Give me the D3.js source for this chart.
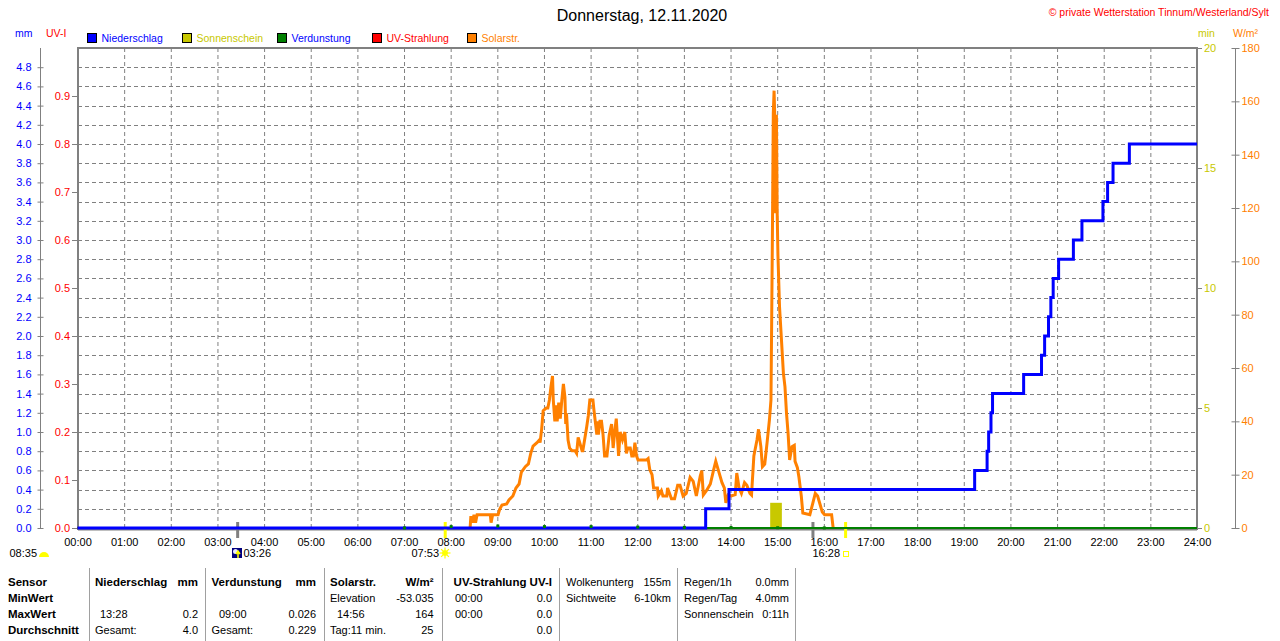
<!DOCTYPE html>
<html>
<head>
<meta charset="utf-8">
<script src="https://cdn.jsdelivr.net/npm/d3@7"></script>
<style>
body { margin: 0; background: #fff; }
svg { display: block; font-family: "Liberation Sans", Arial, sans-serif; }
</style>
</head>
<body>
<svg id="chart" width="1280" height="641"></svg>
<script>
// ---- data ----
var hourLabels = ["00:00","01:00","02:00","03:00","04:00","05:00","06:00","07:00","08:00","09:00","10:00","11:00","12:00",
  "13:00","14:00","15:00","16:00","17:00","18:00","19:00","20:00","21:00","22:00","23:00","24:00"];
var mmTicks = [0.0,0.2,0.4,0.6,0.8,1.0,1.2,1.4,1.6,1.8,2.0,2.2,2.4,2.6,2.8,3.0,3.2,3.4,3.6,3.8,4.0,4.2,4.4,4.6,4.8];
var uvTicks = [0.0,0.1,0.2,0.3,0.4,0.5,0.6,0.7,0.8,0.9];
var minTicks = [0,5,10,15,20];
var wTicks = [0,20,40,60,80,100,120,140,160,180];

// Niederschlag, cumulative mm (step after)
var rainTime = ["00:00","13:28","13:58","19:14","19:30","19:32","19:35","19:37","19:41","20:17","20:40","20:44","20:49",
  "20:52","20:55","21:02","21:21","21:32","21:59","22:05","22:12","22:33","24:00"];
var rainMm = [0,0.2,0.4,0.6,0.8,1.0,1.2,1.4,1.4,1.6,1.8,2.0,2.2,2.4,2.6,2.8,3.0,3.2,3.4,3.6,3.8,4.0,4.0];

// Solarstrahlung W/m²
var solarTime = ["08:25","08:26","08:28","08:30","08:32","08:34","08:42","08:51","08:52","08:54","09:01","09:03","09:06",
  "09:12","09:15","09:20","09:24","09:28","09:31","09:36","09:40","09:43","09:46","09:51","09:54","09:55","09:57","09:59",
  "10:03","10:05","10:07","10:09","10:11","10:12","10:14","10:15","10:17","10:19","10:21","10:23","10:25","10:27","10:28",
  "10:29","10:31","10:33","10:36","10:40","10:42","10:44","10:46","10:49","10:50","10:55","10:57","10:59","11:03","11:04",
  "11:06","11:08","11:09","11:10","11:12","11:14","11:16","11:18","11:21","11:24","11:27","11:29","11:31","11:33","11:36",
  "11:38","11:41","11:44","11:46","11:48","11:51","11:53","11:55","11:57","11:59","12:01","12:12","12:14","12:16","12:19",
  "12:21","12:26","12:27","12:31","12:33","12:38","12:39","12:44","12:48","12:52","12:55","12:59","13:03","13:08","13:12",
  "13:16","13:21","13:23","13:25","13:29","13:34","13:38","13:41","13:44","13:49","13:52","13:54","13:57","14:01","14:06",
  "14:08","14:11","14:14","14:18","14:21","14:25","14:27","14:30","14:34","14:36","14:39","14:41","14:44","14:47","14:50",
  "14:52","14:53","14:54","14:55","14:56","14:57","14:58","14:59","15:00","15:01","15:03","15:06","15:08","15:10","15:12",
  "15:14","15:16","15:19","15:22","15:23","15:26","15:28","15:31","15:33","15:42","15:46","15:49","15:52","15:55","15:58",
  "16:01","16:10","16:12"];
var solarWm2 = [0,4.5,2,5,2,5,5,5,2,5,5,7,8.6,
  9,10.5,12,15,16.5,21,23,24,28,30.7,32,33,32,37,44,
  45,45,48,53,57,48,40,46,40,47,41,48,54,49,39,
  43,33,30,29,29,28,34,32,29,29,38,42,48,48,45,
  40,35,40,35,40,40,35,27,27,35,39,30,36,41,27,
  36,33,36,28,30,30,27,27,32,27,25.5,25.5,26,22,20,
  15,15,12,14,12,12,15,11,11,16,16,12,13,19,17.5,
  12,19.5,21.5,12.4,14,16.5,21.5,25,22,17,15,9.4,12.4,12,12.5,
  20.6,15,13,17,16,13,12.4,27,33,37,30.5,23,24,32,40.5,
  48,80.5,115.5,155.5,164,153,118,155,118,102,83,68,58,53,43,
  35.6,25.5,30.5,31,25,22.6,19,12,5.6,5,9.5,13,12,9,6,
  5,5,0];

// Sonnenschein, minutes per 15-minute slot
var sunStart = ["14:51"];
var sunMin = [1.05];

// Verdunstung, hourly mm
var evapTime = ["07:00","08:00","09:00","10:00","11:00","12:00","13:00","14:00","15:00","16:00"];
var evapMm = [0.006,0.02,0.026,0.02,0.02,0.015,0.012,0.01,0.008,0.006];

// UV-Strahlung
var uvTime = ["00:00","24:00"];
var uvValue = [0.0,0.0];

var legendNames = ["Niederschlag","Sonnenschein","Verdunstung","UV-Strahlung","Solarstr."];

// ---- helpers ----
const toMin = (s) => {
  var p = s.split(":");
  return +p[0] * 60 + +p[1];
}

var svg = d3.select("#chart");
var L = 78, R = 1197, T = 48, B = 528;

var x = d3.scaleLinear().domain([0, 1440]).range([L - 0.5, R]);
var yMm = d3.scaleLinear().domain([0, 5]).range([B, T]);
var yUv = d3.scaleLinear().domain([0, 1]).range([B, T]);
var yMin = d3.scaleLinear().domain([0, 20]).range([B, T]);
var yW = d3.scaleLinear().domain([0, 180]).range([B, T]);

var BLUE = "#0000ff", OLIVE = "#c8c800", GREEN = "#008000", RED = "#ff0000", ORANGE = "#ff8000", GRAY = "#808080";

///////////////////////
// Title
svg.append("text")
  .attr("x", 642).attr("y", 21)
  .attr("text-anchor", "middle")
  .style("font-size", "16px")
  .text("Donnerstag, 12.11.2020");

svg.append("text")
  .attr("x", 1269).attr("y", 16)
  .attr("text-anchor", "end")
  .style("font-size", "10.5px")
  .style("fill", RED)
  .text("\u00a9 private Wetterstation Tinnum/Westerland/Sylt");

// unit labels
var units = [
  {t: "mm", x: 15, a: "start", c: BLUE},
  {t: "UV-I", x: 46, a: "start", c: RED},
  {t: "min", x: 1198, a: "start", c: OLIVE},
  {t: "W/m\u00b2", x: 1233, a: "start", c: ORANGE}
];
svg.selectAll(".unit").data(units).enter().append("text")
  .attr("x", d => d.x).attr("y", 37)
  .attr("text-anchor", d => d.a)
  .style("font-size", "10.5px")
  .style("fill", d => d.c)
  .text(d => d.t);

// legend
var legendX = [87, 182, 277, 372, 467];
var legendFill = [BLUE, OLIVE, GREEN, RED, ORANGE];
var legendText = [BLUE, OLIVE, BLUE, RED, ORANGE];
var lg = svg.selectAll(".lg").data(legendNames).enter().append("g")
  .attr("transform", (d, i) => "translate(" + legendX[i] + ",33)");
lg.append("rect")
  .attr("x", 0.5).attr("y", 0.5).attr("width", 9).attr("height", 9)
  .style("fill", (d, i) => legendFill[i])
  .style("stroke", "#000");
lg.append("text")
  .attr("x", 14.5).attr("y", 9)
  .style("font-size", "10.5px")
  .style("fill", (d, i) => legendText[i])
  .text(d => d);

///////////////////////
// Grid
var grid = svg.append("g");
grid.selectAll(".vg").data(hourLabels.slice(1, 24)).enter().append("line")
  .attr("x1", d => x(toMin(d)) + 0.5).attr("x2", d => x(toMin(d)) + 0.5)
  .attr("y1", T).attr("y2", B)
  .style("stroke", GRAY).style("stroke-dasharray", "4,3");
grid.selectAll(".hg").data(mmTicks.slice(1)).enter().append("line")
  .attr("x1", L).attr("x2", R)
  .attr("y1", d => Math.round(yMm(d)) + 0.5).attr("y2", d => Math.round(yMm(d)) + 0.5)
  .style("stroke", GRAY).style("stroke-dasharray", "4,3");

///////////////////////
// Sonnenschein bars
svg.selectAll(".sun").data(sunStart).enter().append("rect")
  .attr("x", d => x(toMin(d)))
  .attr("width", d => x(toMin(d) + 15) - x(toMin(d)))
  .attr("y", (d, i) => yMin(sunMin[i]))
  .attr("height", (d, i) => B - yMin(sunMin[i]))
  .style("fill", OLIVE);

// frame
svg.append("line").attr("x1", L).attr("x2", R).attr("y1", B + 1.5).attr("y2", B + 1.5)
  .style("stroke", GRAY).style("stroke-width", 2);
svg.append("path")
  .attr("d", "M" + L + "," + (B + 2) + "V" + T + "H" + R + "V" + (B + 2))
  .style("fill", "none").style("stroke", GRAY).style("stroke-width", 2);

// moon / sun ticks
var marks = [
  {t: "03:26", c: GRAY, w: 3},
  {t: "15:46", c: GRAY, w: 3},
  {t: "07:53", c: "#ffff00", w: 3},
  {t: "16:28", c: "#ffff00", w: 3}
];
svg.selectAll(".mk").data(marks).enter().append("line")
  .attr("x1", d => x(toMin(d.t))).attr("x2", d => x(toMin(d.t)))
  .attr("y1", 522).attr("y2", 538)
  .style("stroke", d => d.c).style("stroke-width", d => d.w);

///////////////////////
// Series
var solarData = solarTime.map((t, i) => ({t: toMin(t), v: solarWm2[i]}));
svg.append("path")
  .datum(solarData)
  .attr("d", d3.line().x(d => x(d.t)).y(d => yW(d.v)))
  .style("fill", "none").style("stroke", ORANGE).style("stroke-width", 3);

var uvData = uvTime.map((t, i) => ({t: toMin(t), v: uvValue[i]}));
svg.append("path")
  .datum(uvData)
  .attr("d", d3.line().x(d => x(d.t)).y(d => yUv(d.v)))
  .style("fill", "none").style("stroke", RED).style("stroke-width", 2);

svg.append("line")
  .attr("x1", x(0)).attr("x2", x(1440)).attr("y1", yMm(0)).attr("y2", yMm(0))
  .style("stroke", GREEN).style("stroke-width", 2);

var rainData = rainTime.map((t, i) => ({t: toMin(t), v: rainMm[i]}));
svg.append("path")
  .datum(rainData)
  .attr("d", d3.line().curve(d3.curveStepAfter).x(d => x(d.t)).y(d => yMm(d.v)))
  .style("fill", "none").style("stroke", BLUE).style("stroke-width", 3);

svg.selectAll(".ev").data(evapTime).enter().append("rect")
  .attr("x", d => x(toMin(d)) - 1)
  .attr("y", (d, i) => yMm(evapMm[i]) - 1)
  .attr("width", 3).attr("height", 3)
  .style("fill", GREEN);

///////////////////////
// Axes
var styleAxis = (g, color) => {
  g.selectAll("line").style("stroke", GRAY);
  g.selectAll("path").style("stroke", GRAY);
  g.selectAll("text").style("fill", color).style("font-size", "11px").attr("font-family", null);
  g.attr("font-family", null);
}

var mmAxis = svg.append("g")
  .attr("transform", "translate(40.5,0)")
  .call(d3.axisLeft(yMm).tickValues(mmTicks).tickFormat(d3.format(".1f")).tickSizeOuter(0).tickSize(3).tickPadding(6));
mmAxis.selectAll(".tick line").attr("x1", 3);
mmAxis.select(".domain").attr("d", "M0," + T + "V" + B);
styleAxis(mmAxis, BLUE);

var uvAxis = svg.append("g")
  .attr("transform", "translate(" + (L - 1) + ",0)")
  .call(d3.axisLeft(yUv).tickValues(uvTicks).tickFormat(d3.format(".1f")).tickSizeOuter(0).tickSize(5).tickPadding(2));
uvAxis.select(".domain").remove();
styleAxis(uvAxis, RED);

var minAxis = svg.append("g")
  .attr("transform", "translate(" + (R + 1) + ",0)")
  .call(d3.axisRight(yMin).tickValues(minTicks).tickSizeOuter(0).tickSize(4).tickPadding(2));
minAxis.select(".domain").remove();
styleAxis(minAxis, OLIVE);

var wAxis = svg.append("g")
  .attr("transform", "translate(1235.5,0)")
  .call(d3.axisRight(yW).tickValues(wTicks).tickSizeOuter(0).tickSize(4).tickPadding(2));
wAxis.selectAll(".tick line").attr("x1", -4);
wAxis.select(".domain").attr("d", "M0," + T + "V" + B);
styleAxis(wAxis, ORANGE);

var xAxis = svg.append("g")
  .attr("transform", "translate(0," + (B + 1) + ")")
  .call(d3.axisBottom(x).tickValues(hourLabels.map(toMin)).tickFormat((d, i) => hourLabels[i]).tickSize(0).tickPadding(9));
xAxis.select(".domain").remove();
styleAxis(xAxis, "#000");

///////////////////////
// sun / moon row under the axis
var under = [
  {t: "08:35", x: 37, a: "end"},
  {t: "03:26", x: 243.5, a: "start"},
  {t: "07:53", x: 439, a: "end"},
  {t: "16:28", x: 840, a: "end"}
];
svg.selectAll(".ut").data(under).enter().append("text")
  .attr("x", d => d.x).attr("y", 557)
  .attr("text-anchor", d => d.a)
  .style("font-size", "11px")
  .text(d => d.t);

// day-length half sun
svg.append("path")
  .attr("d", d3.arc()({innerRadius: 0, outerRadius: 5, startAngle: -Math.PI / 2, endAngle: Math.PI / 2}))
  .attr("transform", "translate(44,557)")
  .style("fill", "#ffff00");
// moon icon
svg.append("rect").attr("x", 232).attr("y", 548).attr("width", 10).attr("height", 10).style("fill", "#000080");
svg.append("circle").attr("cx", 235.5).attr("cy", 551.5).attr("r", 2.5).style("fill", "#e8e8ff");
svg.append("path").attr("d", "M238,558V552M236,554L238,551L240,554")
  .style("stroke", "#ffff00").style("stroke-width", 1.5).style("fill", "none");
// sunrise sun
var sun = svg.append("g").attr("transform", "translate(445,553)");
sun.selectAll("line").data(d3.range(8)).enter().append("line")
  .attr("x1", d => Math.cos(d * Math.PI / 4) * 3).attr("y1", d => Math.sin(d * Math.PI / 4) * 3)
  .attr("x2", d => Math.cos(d * Math.PI / 4) * 5.5).attr("y2", d => Math.sin(d * Math.PI / 4) * 5.5)
  .style("stroke", "#ffff00").style("stroke-width", 1.2);
sun.append("circle").attr("r", 3).style("fill", "#ffff00");
// sunset
svg.append("rect").attr("x", 843.5).attr("y", 551.5).attr("width", 5).attr("height", 5)
  .style("fill", "none").style("stroke", "#ffff00");

///////////////////////
// Table
var rowY = [586, 602, 618, 633.5];
var sepX = [89, 205, 324, 442, 559, 677, 795];
svg.selectAll(".sep").data(sepX).enter().append("line")
  .attr("x1", d => d + 0.5).attr("x2", d => d + 0.5)
  .attr("y1", 568).attr("y2", 641)
  .style("stroke", "#a0a0a0");

var rowNames = ["Sensor", "MinWert", "MaxWert", "Durchschnitt"];
svg.selectAll(".rn").data(rowNames).enter().append("text")
  .attr("x", 8).attr("y", (d, i) => rowY[i])
  .style("font-size", "11.5px").style("font-weight", "bold")
  .text(d => d);

var cells = [
  // [text, x, row, anchor, bold]
  ["Niederschlag", 95, 0, "start", 1], ["mm", 198, 0, "end", 1],
  ["13:28", 100, 2, "start", 0], ["0.2", 198, 2, "end", 0],
  ["Gesamt:", 95, 3, "start", 0], ["4.0", 198, 3, "end", 0],
  ["Verdunstung", 211.5, 0, "start", 1], ["mm", 316, 0, "end", 1],
  ["09:00", 219, 2, "start", 0], ["0.026", 316, 2, "end", 0],
  ["Gesamt:", 211.5, 3, "start", 0], ["0.229", 316, 3, "end", 0],
  ["Solarstr.", 330, 0, "start", 1], ["W/m\u00b2", 433.5, 0, "end", 1],
  ["Elevation", 330, 1, "start", 0], ["-53.035", 433.5, 1, "end", 0],
  ["14:56", 337, 2, "start", 0], ["164", 433.5, 2, "end", 0],
  ["Tag:11 min.", 330, 3, "start", 0], ["25", 433.5, 3, "end", 0],
  ["UV-Strahlung UV-I", 552, 0, "end", 1],
  ["00:00", 455, 1, "start", 0], ["0.0", 552, 1, "end", 0],
  ["00:00", 455, 2, "start", 0], ["0.0", 552, 2, "end", 0],
  ["0.0", 552, 3, "end", 0],
  ["Wolkenunterg", 566, 0, "start", 0], ["155m", 671, 0, "end", 0],
  ["Sichtweite", 566, 1, "start", 0], ["6-10km", 671, 1, "end", 0],
  ["Regen/1h", 684, 0, "start", 0], ["0.0mm", 789, 0, "end", 0],
  ["Regen/Tag", 684, 1, "start", 0], ["4.0mm", 789, 1, "end", 0],
  ["Sonnenschein", 684, 2, "start", 0], ["0:11h", 789, 2, "end", 0]
];
svg.selectAll(".cell").data(cells).enter().append("text")
  .attr("x", d => d[1]).attr("y", d => rowY[d[2]])
  .attr("text-anchor", d => d[3])
  .style("font-size", d => d[4] ? "11.5px" : "11px")
  .style("font-weight", d => d[4] ? "bold" : "normal")
  .text(d => d[0]);
</script>
</body>
</html>
